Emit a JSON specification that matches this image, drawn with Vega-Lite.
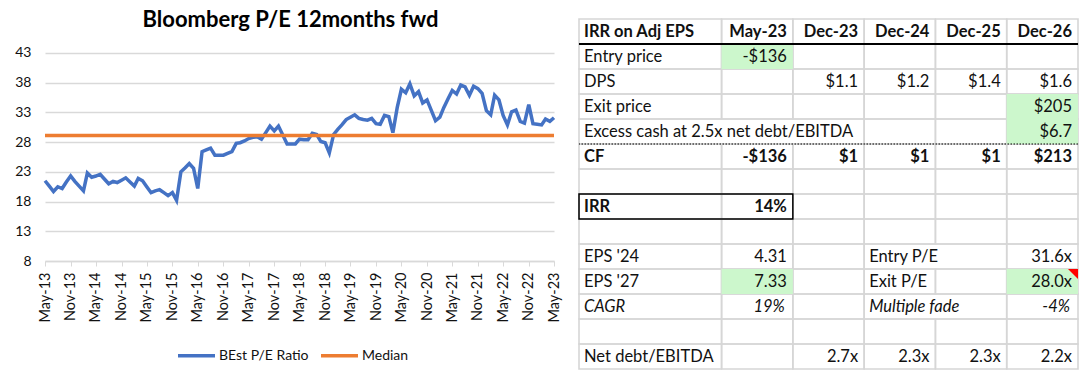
{
  "$schema": "https://vega.github.io/schema/vega-lite/v6.json",
  "background": "white",
  "padding": {"left": 14, "top": 9, "right": 0, "bottom": 0},
  "spacing": 16,
  "config": {
    "view": {"stroke": null},
    "font": "Lato",
    "axis": {"labelFont": "Lato"},
    "legend": {"labelFont": "Lato"},
    "title": {"font": "Lato"}
  },
  "datasets": {
    "pe": [
      {"d":"2013-05-01","v":21.5},{"d":"2013-06-01","v":20.6},{"d":"2013-07-01","v":19.7},{"d":"2013-08-01","v":20.5},{"d":"2013-09-01","v":20.2},{"d":"2013-10-01","v":21.3},{"d":"2013-11-01","v":22.3},{"d":"2013-12-01","v":21.4},
      {"d":"2014-01-01","v":20.6},{"d":"2014-02-01","v":19.8},{"d":"2014-03-01","v":22.8},{"d":"2014-04-01","v":22.1},{"d":"2014-05-01","v":22.3},{"d":"2014-06-01","v":22.6},{"d":"2014-07-01","v":21.8},{"d":"2014-08-01","v":21.0},{"d":"2014-09-01","v":21.4},{"d":"2014-10-01","v":21.2},{"d":"2014-11-01","v":21.6},{"d":"2014-12-01","v":22.0},
      {"d":"2015-01-01","v":21.3},{"d":"2015-02-01","v":20.6},{"d":"2015-03-01","v":21.9},{"d":"2015-04-01","v":21.5},{"d":"2015-05-01","v":20.5},{"d":"2015-06-01","v":19.5},{"d":"2015-07-01","v":19.8},{"d":"2015-08-01","v":20.0},{"d":"2015-09-01","v":19.5},{"d":"2015-10-01","v":19.0},{"d":"2015-11-01","v":19.5},{"d":"2015-12-01","v":18.2},
      {"d":"2016-01-01","v":23.0},{"d":"2016-02-01","v":23.7},{"d":"2016-03-01","v":24.4},{"d":"2016-04-01","v":23.6},{"d":"2016-05-01","v":20.2},{"d":"2016-06-01","v":26.4},{"d":"2016-07-01","v":26.7},{"d":"2016-08-01","v":27.0},{"d":"2016-09-01","v":25.8},{"d":"2016-10-01","v":25.8},{"d":"2016-11-01","v":25.8},{"d":"2016-12-01","v":26.1},
      {"d":"2017-01-01","v":26.4},{"d":"2017-02-01","v":27.8},{"d":"2017-03-01","v":27.9},{"d":"2017-04-01","v":28.2},{"d":"2017-05-01","v":28.6},{"d":"2017-06-01","v":28.8},{"d":"2017-07-01","v":28.9},{"d":"2017-08-01","v":28.5},{"d":"2017-09-01","v":29.6},{"d":"2017-10-01","v":30.7},{"d":"2017-11-01","v":29.9},{"d":"2017-12-01","v":30.7},
      {"d":"2018-01-01","v":29.2},{"d":"2018-02-01","v":27.7},{"d":"2018-03-01","v":27.7},{"d":"2018-04-01","v":27.7},{"d":"2018-05-01","v":28.5},{"d":"2018-06-01","v":28.4},{"d":"2018-07-01","v":28.4},{"d":"2018-08-01","v":29.5},{"d":"2018-09-01","v":29.3},{"d":"2018-10-01","v":28.1},{"d":"2018-11-01","v":27.9},{"d":"2018-12-01","v":26.2},
      {"d":"2019-01-01","v":29.3},{"d":"2019-02-01","v":30.2},{"d":"2019-03-01","v":30.9},{"d":"2019-04-01","v":31.8},{"d":"2019-05-01","v":32.2},{"d":"2019-06-01","v":32.6},{"d":"2019-07-01","v":32.0},{"d":"2019-08-01","v":31.8},{"d":"2019-09-01","v":31.7},{"d":"2019-10-01","v":32.0},{"d":"2019-11-01","v":31.1},{"d":"2019-12-01","v":31.0},
      {"d":"2020-01-01","v":32.5},{"d":"2020-02-01","v":32.3},{"d":"2020-03-01","v":29.6},{"d":"2020-04-01","v":33.8},{"d":"2020-05-01","v":36.9},{"d":"2020-06-01","v":36.3},{"d":"2020-07-01","v":37.8},{"d":"2020-08-01","v":35.8},{"d":"2020-09-01","v":36.5},{"d":"2020-10-01","v":34.6},{"d":"2020-11-01","v":35.1},{"d":"2020-12-01","v":33.4},
      {"d":"2021-01-01","v":31.6},{"d":"2021-02-01","v":32.2},{"d":"2021-03-01","v":33.8},{"d":"2021-04-01","v":35.3},{"d":"2021-05-01","v":36.7},{"d":"2021-06-01","v":36.1},{"d":"2021-07-01","v":37.6},{"d":"2021-08-01","v":37.3},{"d":"2021-09-01","v":35.9},{"d":"2021-10-01","v":37.4},{"d":"2021-11-01","v":37.0},{"d":"2021-12-01","v":36.2},
      {"d":"2022-01-01","v":33.3},{"d":"2022-02-01","v":32.6},{"d":"2022-03-01","v":35.9},{"d":"2022-04-01","v":35.1},{"d":"2022-05-01","v":32.5},{"d":"2022-06-01","v":30.9},{"d":"2022-07-01","v":33.1},{"d":"2022-08-01","v":33.4},{"d":"2022-09-01","v":31.5},{"d":"2022-10-01","v":31.2},{"d":"2022-11-01","v":34.3},{"d":"2022-12-01","v":31.1},
      {"d":"2023-01-01","v":31.0},{"d":"2023-02-01","v":30.9},{"d":"2023-03-01","v":31.9},{"d":"2023-04-01","v":31.5},{"d":"2023-05-01","v":32.1}
    ],
    "median": [{"d":"2013-05-01","v":29.1},{"d":"2023-05-01","v":29.1}],
    "cells": [
      {"r":1,"c0":"L1","c1":"L2"},{"r":1,"c0":"May-23","c1":"May-23"},{"r":1,"c0":"Dec-23","c1":"Dec-23"},{"r":1,"c0":"Dec-24","c1":"Dec-24"},{"r":1,"c0":"Dec-25","c1":"Dec-25"},{"r":1,"c0":"Dec-26","c1":"Dec-26"},
      {"r":2,"c0":"L1","c1":"L2"},{"r":2,"c0":"May-23","c1":"May-23","hl":true},{"r":2,"c0":"Dec-23","c1":"Dec-23"},{"r":2,"c0":"Dec-24","c1":"Dec-24"},{"r":2,"c0":"Dec-25","c1":"Dec-25"},{"r":2,"c0":"Dec-26","c1":"Dec-26"},
      {"r":3,"c0":"L1","c1":"L2"},{"r":3,"c0":"May-23","c1":"May-23"},{"r":3,"c0":"Dec-23","c1":"Dec-23"},{"r":3,"c0":"Dec-24","c1":"Dec-24"},{"r":3,"c0":"Dec-25","c1":"Dec-25"},{"r":3,"c0":"Dec-26","c1":"Dec-26"},
      {"r":4,"c0":"L1","c1":"L2"},{"r":4,"c0":"May-23","c1":"May-23"},{"r":4,"c0":"Dec-23","c1":"Dec-23"},{"r":4,"c0":"Dec-24","c1":"Dec-24"},{"r":4,"c0":"Dec-25","c1":"Dec-25"},{"r":4,"c0":"Dec-26","c1":"Dec-26","hl":true},
      {"r":5,"c0":"L1","c1":"Dec-23"},{"r":5,"c0":"Dec-24","c1":"Dec-24"},{"r":5,"c0":"Dec-25","c1":"Dec-25"},{"r":5,"c0":"Dec-26","c1":"Dec-26","hl":true},
      {"r":6,"c0":"L1","c1":"L2"},{"r":6,"c0":"May-23","c1":"May-23"},{"r":6,"c0":"Dec-23","c1":"Dec-23"},{"r":6,"c0":"Dec-24","c1":"Dec-24"},{"r":6,"c0":"Dec-25","c1":"Dec-25"},{"r":6,"c0":"Dec-26","c1":"Dec-26"},
      {"r":7,"c0":"L1","c1":"L2"},{"r":7,"c0":"May-23","c1":"May-23"},{"r":7,"c0":"Dec-23","c1":"Dec-23"},{"r":7,"c0":"Dec-24","c1":"Dec-24"},{"r":7,"c0":"Dec-25","c1":"Dec-25"},{"r":7,"c0":"Dec-26","c1":"Dec-26"},
      {"r":8,"c0":"L1","c1":"L2"},{"r":8,"c0":"May-23","c1":"May-23"},{"r":8,"c0":"Dec-23","c1":"Dec-23"},{"r":8,"c0":"Dec-24","c1":"Dec-24"},{"r":8,"c0":"Dec-25","c1":"Dec-25"},{"r":8,"c0":"Dec-26","c1":"Dec-26"},
      {"r":9,"c0":"L1","c1":"L2"},{"r":9,"c0":"May-23","c1":"May-23"},{"r":9,"c0":"Dec-23","c1":"Dec-23"},{"r":9,"c0":"Dec-24","c1":"Dec-24"},{"r":9,"c0":"Dec-25","c1":"Dec-25"},{"r":9,"c0":"Dec-26","c1":"Dec-26"},
      {"r":10,"c0":"L1","c1":"L2"},{"r":10,"c0":"May-23","c1":"May-23"},{"r":10,"c0":"Dec-23","c1":"Dec-23"},{"r":10,"c0":"Dec-24","c1":"Dec-25"},{"r":10,"c0":"Dec-26","c1":"Dec-26"},
      {"r":11,"c0":"L1","c1":"L2"},{"r":11,"c0":"May-23","c1":"May-23","hl":true},{"r":11,"c0":"Dec-23","c1":"Dec-23"},{"r":11,"c0":"Dec-24","c1":"Dec-24"},{"r":11,"c0":"Dec-25","c1":"Dec-25"},{"r":11,"c0":"Dec-26","c1":"Dec-26","hl":true},
      {"r":12,"c0":"L1","c1":"L2"},{"r":12,"c0":"May-23","c1":"May-23"},{"r":12,"c0":"Dec-23","c1":"Dec-23"},{"r":12,"c0":"Dec-24","c1":"Dec-25"},{"r":12,"c0":"Dec-26","c1":"Dec-26"},
      {"r":13,"c0":"L1","c1":"L2"},{"r":13,"c0":"May-23","c1":"May-23"},{"r":13,"c0":"Dec-23","c1":"Dec-23"},{"r":13,"c0":"Dec-24","c1":"Dec-24"},{"r":13,"c0":"Dec-25","c1":"Dec-25"},{"r":13,"c0":"Dec-26","c1":"Dec-26"},
      {"r":14,"c0":"L1","c1":"L2"},{"r":14,"c0":"May-23","c1":"May-23"},{"r":14,"c0":"Dec-23","c1":"Dec-23"},{"r":14,"c0":"Dec-24","c1":"Dec-24"},{"r":14,"c0":"Dec-25","c1":"Dec-25"},{"r":14,"c0":"Dec-26","c1":"Dec-26"}
    ],
    "texts": [
      {"r":1,"c":"L1","t":"IRR on Adj EPS","k":"label"},
      {"r":1,"c":"May-23","t":"May-23","k":"value"},
      {"r":1,"c":"Dec-23","t":"Dec-23","k":"value"},
      {"r":1,"c":"Dec-24","t":"Dec-24","k":"value"},
      {"r":1,"c":"Dec-25","t":"Dec-25","k":"value"},
      {"r":1,"c":"Dec-26","t":"Dec-26","k":"value"},
      {"r":2,"c":"L1","t":"Entry price","k":"label"},
      {"r":2,"c":"May-23","t":"-$136","k":"value"},
      {"r":3,"c":"L1","t":"DPS","k":"label"},
      {"r":3,"c":"Dec-23","t":"$1.1","k":"value"},
      {"r":3,"c":"Dec-24","t":"$1.2","k":"value"},
      {"r":3,"c":"Dec-25","t":"$1.4","k":"value"},
      {"r":3,"c":"Dec-26","t":"$1.6","k":"value"},
      {"r":4,"c":"L1","t":"Exit price","k":"label"},
      {"r":4,"c":"Dec-26","t":"$205","k":"value"},
      {"r":5,"c":"L1","t":"Excess cash at 2.5x net debt/EBITDA","k":"label"},
      {"r":5,"c":"Dec-26","t":"$6.7","k":"value"},
      {"r":6,"c":"L1","t":"CF","k":"label"},
      {"r":6,"c":"May-23","t":"-$136","k":"value"},
      {"r":6,"c":"Dec-23","t":"$1","k":"value"},
      {"r":6,"c":"Dec-24","t":"$1","k":"value"},
      {"r":6,"c":"Dec-25","t":"$1","k":"value"},
      {"r":6,"c":"Dec-26","t":"$213","k":"value"},
      {"r":8,"c":"L1","t":"IRR","k":"label"},
      {"r":8,"c":"May-23","t":"14%","k":"value"},
      {"r":10,"c":"L1","t":"EPS '24","k":"label"},
      {"r":10,"c":"May-23","t":"4.31","k":"value"},
      {"r":10,"c":"Dec-24","t":"Entry P/E","k":"label"},
      {"r":10,"c":"Dec-26","t":"31.6x","k":"value"},
      {"r":11,"c":"L1","t":"EPS '27","k":"label"},
      {"r":11,"c":"May-23","t":"7.33","k":"value"},
      {"r":11,"c":"Dec-24","t":"Exit P/E","k":"label"},
      {"r":11,"c":"Dec-26","t":"28.0x","k":"value"},
      {"r":12,"c":"L1","t":"CAGR","k":"label"},
      {"r":12,"c":"May-23","t":"19%","k":"value"},
      {"r":12,"c":"Dec-24","t":"Multiple fade","k":"label"},
      {"r":12,"c":"Dec-26","t":"-4%","k":"value"},
      {"r":14,"c":"L1","t":"Net debt/EBITDA","k":"label"},
      {"r":14,"c":"Dec-23","t":"2.7x","k":"value"},
      {"r":14,"c":"Dec-24","t":"2.3x","k":"value"},
      {"r":14,"c":"Dec-25","t":"2.3x","k":"value"},
      {"r":14,"c":"Dec-26","t":"2.2x","k":"value"}
    ]
  },
  "hconcat": [
    {
      "width": 509,
      "height": 242,
      "title": {"text": "Bloomberg P/E 12months fwd", "fontSize": 22, "fontWeight": "bold", "color": "#000000", "offset": -13, "anchor": "middle", "dx": -9},
      "layer": [
        {
          "data": {"name": "pe"},
          "mark": {"type": "line", "strokeWidth": 3.5, "color": "#4472C4"},
          "encoding": {
            "x": {
              "field": "d", "type": "temporal",
              "scale": {"type": "utc", "domain": [{"year":2013,"month":5,"date":1,"utc":true},{"year":2023,"month":5,"date":1,"utc":true}]},
              "axis": {
                "title": null, "format": "%b-%y", "labelAngle": 270, "labelFontSize": 14.5, "labelColor": "#111111", "tickCount": 40,
                "grid": false, "domainColor": "#d9d9d9", "domainWidth": 1.5, "tickColor": "#d9d9d9", "tickSize": 5, "labelPadding": 6, "labelFlush": false, "labelOverlap": false,
                "values": [
                  {"year":2013,"month":5,"date":1,"utc":true},{"year":2013,"month":11,"date":1,"utc":true},
                  {"year":2014,"month":5,"date":1,"utc":true},{"year":2014,"month":11,"date":1,"utc":true},
                  {"year":2015,"month":5,"date":1,"utc":true},{"year":2015,"month":11,"date":1,"utc":true},
                  {"year":2016,"month":5,"date":1,"utc":true},{"year":2016,"month":11,"date":1,"utc":true},
                  {"year":2017,"month":5,"date":1,"utc":true},{"year":2017,"month":11,"date":1,"utc":true},
                  {"year":2018,"month":5,"date":1,"utc":true},{"year":2018,"month":11,"date":1,"utc":true},
                  {"year":2019,"month":5,"date":1,"utc":true},{"year":2019,"month":11,"date":1,"utc":true},
                  {"year":2020,"month":5,"date":1,"utc":true},{"year":2020,"month":11,"date":1,"utc":true},
                  {"year":2021,"month":5,"date":1,"utc":true},{"year":2021,"month":11,"date":1,"utc":true},
                  {"year":2022,"month":5,"date":1,"utc":true},{"year":2022,"month":11,"date":1,"utc":true},
                  {"year":2023,"month":5,"date":1,"utc":true}
                ]
              }
            },
            "y": {
              "field": "v", "type": "quantitative",
              "scale": {"domain": [8, 48.72], "nice": false, "zero": false},
              "axis": {"title": null, "values": [8,13,18,23,28,33,38,43], "tickCount": 40, "labelOverlap": false, "domain": false, "ticks": false, "grid": true, "gridColor": "#d9d9d9", "gridWidth": 1.5, "labelFontSize": 14, "labelColor": "#111111", "labelPadding": 14}
            },
            "color": {
              "datum": "BEst P/E Ratio",
              "scale": {"domain": ["BEst P/E Ratio", "Median"], "range": ["#4472C4", "#ED7D31"]},
              "legend": {"orient": "none", "legendX": 131, "legendY": 316, "direction": "horizontal", "title": null, "symbolType": "stroke", "symbolStrokeWidth": 3.5, "symbolSize": 1369, "labelFontSize": 14, "labelColor": "#111111", "columnPadding": 5, "labelOffset": 2, "padding": 0}
            }
          }
        },
        {
          "data": {"name": "median"},
          "mark": {"type": "line", "strokeWidth": 3.5},
          "encoding": {
            "x": {"field": "d", "type": "temporal"},
            "y": {"field": "v", "type": "quantitative"},
            "color": {"datum": "Median"}
          }
        }
      ]
    },
    {
      "width": 499,
      "height": 350,
      "layer": [
        {
          "data": {"name": "cells"},
          "mark": {"type": "rect", "fill": null, "stroke": "#d6d6d6", "strokeWidth": 1.6},
          "encoding": {
            "x": {"field": "c0", "type": "nominal", "bandPosition": 0, "scale": {"domain": ["L1","L2","May-23","Dec-23","Dec-24","Dec-25","Dec-26"], "paddingInner": 0, "paddingOuter": 0}, "axis": null},
            "x2": {"field": "c1", "bandPosition": 1},
            "y": {"field": "r", "type": "ordinal", "scale": {"domain": [1,2,3,4,5,6,7,8,9,10,11,12,13,14], "paddingInner": 0, "paddingOuter": 0}, "axis": null}
          }
        },
        {
          "data": {"name": "cells"},
          "transform": [{"filter": "datum.hl === true"}],
          "mark": {"type": "rect", "fill": "#ccf7cc", "strokeWidth": 0},
          "encoding": {
            "x": {"field": "c0", "type": "nominal", "bandPosition": 0, "axis": null},
            "x2": {"field": "c1", "bandPosition": 1},
            "y": {"field": "r", "type": "ordinal", "axis": null}
          }
        },
        {
          "data": {"values": [{"r": 2}]},
          "mark": {"type": "rule", "color": "#000000", "strokeWidth": 2.2},
          "encoding": {"y": {"field": "r", "type": "ordinal", "bandPosition": 0, "axis": null}}
        },
        {
          "data": {"values": [{"r": 6}]},
          "mark": {"type": "rule", "color": "#000000", "strokeWidth": 1, "strokeDash": [1.5, 1.5]},
          "encoding": {"y": {"field": "r", "type": "ordinal", "bandPosition": 0, "axis": null}}
        },
        {
          "data": {"values": [{"r": 8, "c0": "L1", "c1": "May-23"}]},
          "mark": {"type": "rect", "fill": null, "stroke": "#000000", "strokeWidth": 1.5},
          "encoding": {
            "x": {"field": "c0", "type": "nominal", "bandPosition": 0, "axis": null},
            "x2": {"field": "c1", "bandPosition": 1},
            "y": {"field": "r", "type": "ordinal", "axis": null}
          }
        },
        {
          "data": {"name": "texts"},
          "transform": [{"filter": "datum.k == 'label' && datum.r != 1 && datum.r != 6 && datum.r != 8 && datum.r != 12"}],
          "mark": {"type": "text", "align": "left", "baseline": "middle", "dx": 5, "fontSize": 16.5, "color": "#111111"},
          "encoding": {
            "x": {"field": "c", "type": "nominal", "bandPosition": 0, "axis": null},
            "y": {"field": "r", "type": "ordinal", "bandPosition": 0.5, "axis": null},
            "text": {"field": "t"}
          }
        },
        {
          "data": {"name": "texts"},
          "transform": [{"filter": "datum.k == 'value' && datum.r != 1 && datum.r != 6 && datum.r != 8 && datum.r != 12"}],
          "mark": {"type": "text", "align": "right", "baseline": "middle", "dx": -6, "fontSize": 16.5, "color": "#111111"},
          "encoding": {
            "x": {"field": "c", "type": "nominal", "bandPosition": 1, "axis": null},
            "y": {"field": "r", "type": "ordinal", "bandPosition": 0.5, "axis": null},
            "text": {"field": "t"}
          }
        },
        {
          "data": {"name": "texts"},
          "transform": [{"filter": "datum.k == 'label' && (datum.r == 1 || datum.r == 6 || datum.r == 8)"}],
          "mark": {"type": "text", "align": "left", "baseline": "middle", "dx": 5, "fontSize": 16.5, "fontWeight": "bold", "color": "#111111"},
          "encoding": {
            "x": {"field": "c", "type": "nominal", "bandPosition": 0, "axis": null},
            "y": {"field": "r", "type": "ordinal", "bandPosition": 0.5, "axis": null},
            "text": {"field": "t"}
          }
        },
        {
          "data": {"name": "texts"},
          "transform": [{"filter": "datum.k == 'value' && (datum.r == 1 || datum.r == 6 || datum.r == 8)"}],
          "mark": {"type": "text", "align": "right", "baseline": "middle", "dx": -6, "fontSize": 16.5, "fontWeight": "bold", "color": "#111111"},
          "encoding": {
            "x": {"field": "c", "type": "nominal", "bandPosition": 1, "axis": null},
            "y": {"field": "r", "type": "ordinal", "bandPosition": 0.5, "axis": null},
            "text": {"field": "t"}
          }
        },
        {
          "data": {"name": "texts"},
          "transform": [{"filter": "datum.k == 'label' && datum.r == 12"}],
          "mark": {"type": "text", "align": "left", "baseline": "middle", "dx": 5, "fontSize": 16.5, "fontStyle": "italic", "color": "#111111"},
          "encoding": {
            "x": {"field": "c", "type": "nominal", "bandPosition": 0, "axis": null},
            "y": {"field": "r", "type": "ordinal", "bandPosition": 0.5, "axis": null},
            "text": {"field": "t"}
          }
        },
        {
          "data": {"name": "texts"},
          "transform": [{"filter": "datum.k == 'value' && datum.r == 12"}],
          "mark": {"type": "text", "align": "right", "baseline": "middle", "dx": -8, "fontSize": 16.5, "fontStyle": "italic", "color": "#111111"},
          "encoding": {
            "x": {"field": "c", "type": "nominal", "bandPosition": 1, "axis": null},
            "y": {"field": "r", "type": "ordinal", "bandPosition": 0.5, "axis": null},
            "text": {"field": "t"}
          }
        },
        {
          "data": {"values": [{"r": 11, "c": "Dec-26"}]},
          "mark": {"type": "point", "shape": "M -1 0 L 0 0 L 0 1 Z", "filled": true, "color": "#ff0000", "opacity": 1, "size": 400, "strokeWidth": 0},
          "encoding": {
            "x": {"field": "c", "type": "nominal", "bandPosition": 1, "axis": null},
            "y": {"field": "r", "type": "ordinal", "bandPosition": 0, "axis": null}
          }
        }
      ]
    }
  ]
}
